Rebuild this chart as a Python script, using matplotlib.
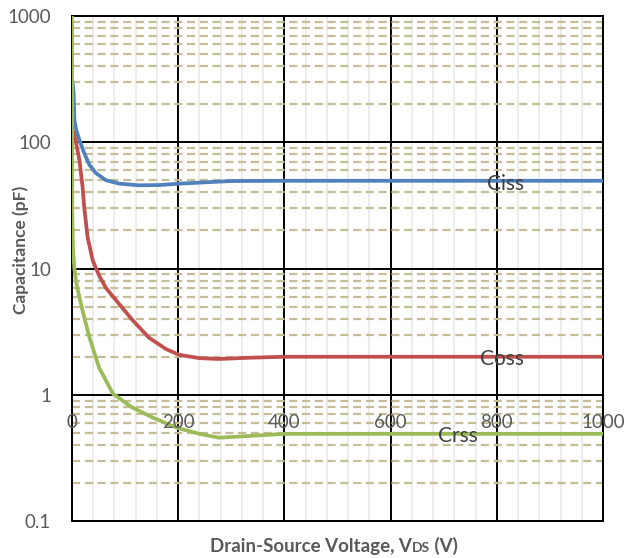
import matplotlib
matplotlib.use("Agg")
import matplotlib.pyplot as plt
from matplotlib.ticker import FixedLocator, NullFormatter
from matplotlib.offsetbox import TextArea, HPacker, AnchoredOffsetbox

plt.rcParams["font.family"] = ["Lato", "DejaVu Sans"]
plt.rcParams["lines.scale_dashes"] = False

# values (V in volts, C in pF)
ciss_v = [0, 3, 4.5, 8, 14, 23, 33, 45, 64, 89, 126, 164, 202, 300, 400, 600, 800, 1000]
ciss_c = [320, 250, 150, 125, 104, 82, 66, 57, 50, 47, 45.6, 45.8, 47, 49.3, 49.5, 49.5, 49.5, 49.5]

coss_v = [0, 3, 7.5, 14, 20, 23, 29.5, 39, 51, 64, 83, 114, 145, 177, 202, 240, 277, 328, 400, 600, 1000]
coss_c = [125, 118, 100, 72, 44, 30.5, 17.6, 11.6, 8.8, 7.0, 5.6, 3.9, 2.83, 2.3, 2.07, 1.95, 1.92, 1.96, 2.0, 2.0, 2.0]

crss_v = [0, 0.5, 2, 4.4, 7.5, 11, 20, 33, 51, 77, 114, 152, 196, 240, 277, 328, 400, 600, 1000]
crss_c = [1000, 25, 14, 10, 8, 6.7, 4.6, 2.83, 1.64, 1.02, 0.79, 0.66, 0.55, 0.49, 0.457, 0.47, 0.49, 0.49, 0.49]

x_ticks = [0, 200, 400, 600, 800, 1000]
y_ticks = [0.1, 1, 10, 100, 1000]
y_labels = ["0.1", "1", "10", "100", "1000"]

GRAY = "#595959"

fig = plt.figure(figsize=(6.26, 5.58), dpi=100)
ax = fig.add_axes([72 / 626, 1 - 521 / 558, 531 / 626, 505 / 558])
ax.set_yscale("log")
ax.set_xlim(0, 1000)
ax.set_ylim(0.1, 1000)

# minor grids
ax.xaxis.set_minor_locator(FixedLocator([v for v in range(0, 1001, 40) if v % 200]))
minor_y = [m * 10.0 ** e for e in range(-1, 3) for m in range(2, 10)]
ax.yaxis.set_minor_locator(FixedLocator(minor_y))
ax.yaxis.set_minor_formatter(NullFormatter())
ax.grid(which="minor", axis="x", color="#EBEBEB", lw=1.3, zorder=0)
ax.grid(which="minor", axis="y", color="#C4BD97", lw=1.6, ls=(0, (5.8, 3.4)), zorder=0)
ax.set_xticks(x_ticks)
ax.set_yticks(y_ticks)
ax.grid(which="major", color="black", lw=1.4, zorder=1)
ax.set_axisbelow(True)

for s in ax.spines.values():
    s.set_color("black")
    s.set_linewidth(1.4)

ax.tick_params(which="both", length=0)
ax.set_yticklabels(y_labels, color=GRAY, fontsize=13.5)
ax.tick_params(axis="y", pad=15)
ax.set_xticklabels([])

# x labels sit under the y=1 line, as in the original
for v in x_ticks:
    ax.annotate(str(v), (v, 1), xytext=(0, -28), textcoords="offset pixels",
                ha="center", va="center", color=GRAY, fontsize=13.5,
                annotation_clip=False, zorder=5)

ax.plot(ciss_v, ciss_c, color="#4F81BD", lw=2.7, zorder=3)
ax.plot(coss_v, coss_c, color="#C0504D", lw=2.7, zorder=3)
ax.plot(crss_v, crss_c, color="#9BBB59", lw=2.7, zorder=3)

ax.text(817, 47, "Ciss", ha="center", va="center", color="#404040", fontsize=15, zorder=6)
ax.text(810, 1.93, "Coss", ha="center", va="center", color="#404040", fontsize=15, zorder=6)
ax.text(727, 0.47, "Crss", ha="center", va="center", color="#404040", fontsize=15, zorder=6)

fig.text(21 / 626, 1 - 250 / 558, "Capacitance (pF)", rotation=90, ha="center",
         va="center", color=GRAY, fontsize=12.5, fontweight="bold")

# x title with small "DS" on the baseline
parts = [TextArea("Drain-Source Voltage, V", textprops=dict(color=GRAY, fontsize=13.5, fontweight="bold")),
         TextArea("DS", textprops=dict(color=GRAY, fontsize=10, fontweight="bold")),
         TextArea(" (V)", textprops=dict(color=GRAY, fontsize=13.5, fontweight="bold"))]
box = HPacker(children=parts, align="baseline", pad=0, sep=0)
anch = AnchoredOffsetbox(loc="center", child=box, frameon=False, pad=0, borderpad=0,
                         bbox_to_anchor=(334 / 626, 1 - 546 / 558),
                         bbox_transform=fig.transFigure)
fig.add_artist(anch)

fig.savefig("out.png", dpi=100)
